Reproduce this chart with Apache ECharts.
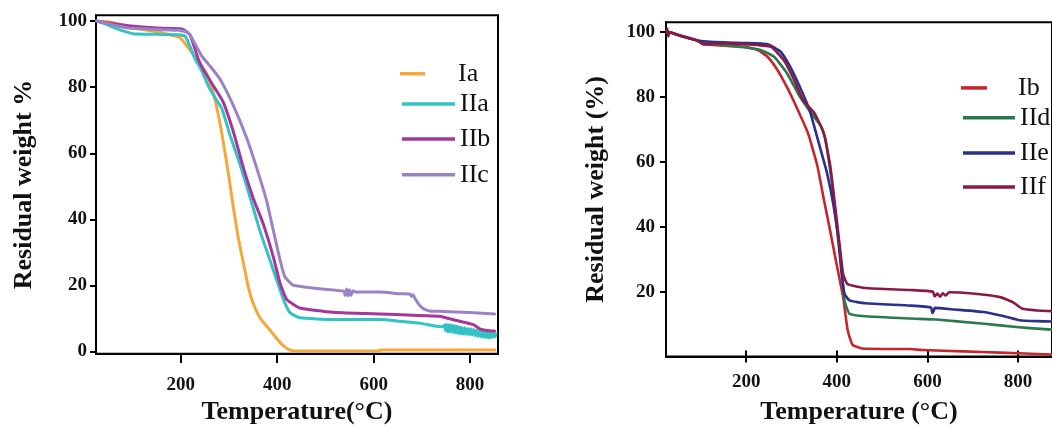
<!DOCTYPE html>
<html>
<head>
<meta charset="utf-8">
<script src="https://cdn.jsdelivr.net/npm/echarts@6/dist/echarts.min.js"></script>
<style>
html,body{margin:0;padding:0;background:#fff;overflow:hidden;}
#c{width:100vw;height:100vh;}
</style>
</head>
<body>
<div id="c"></div>
<script>
// ---------- DATA ----------
const xTicks = [200, 400, 600, 800];
const yTicksLeft = [0, 20, 40, 60, 80, 100];
const yTicksRight = [20, 40, 60, 80, 100];

const Ia = [[27,100],[45,99.8],[64,99.4],[100,98.0],[150,96.8],[198,95.0],[215,92],[235,88],[254,84],[267,78.5],[278,71.5],[288,63.5],[299,53.5],[309,43.6],[319,34.6],[330,26.6],[340,19.6],[350,14.6],[364,10.2],[378,7.7],[392,5.2],[406,2.7],[420,0.9],[433,0.2],[610,0.2],[614,0.5],[852,0.5]];
const IIa = [[25,100],[40,99.3],[64,97.9],[85,96.8],[100,96.2],[150,96.0],[195,95.9],[209,95.4],[220,92],[230,88.4],[240,86],[257,80.4],[270,77],[285,73.5],[302,65.5],[323,56.5],[344,46.5],[364,36.6],[385,27.6],[406,18.6],[416,14.6],[427,11.7],[447,10.2],[516,9.7],[613,9.7],[654,9.2],[696,8.6],[723,7.8],[744,7.5],[747,8.0],[749,6.4],[751,8.2],[753,6.0],[755,8.1],[757,5.9],[759,8.0],[761,6.1],[763,7.9],[765,5.8],[767,7.8],[769,5.7],[771,7.7],[773,5.6],[775,7.6],[777,5.5],[779,7.4],[781,5.4],[783,7.3],[786,5.3],[789,7.2],[792,5.2],[795,7.0],[798,5.1],[801,6.9],[804,5.0],[807,6.7],[810,4.8],[813,6.5],[816,4.6],[819,6.3],[822,4.5],[825,6.1],[828,4.3],[831,6.0],[834,4.2],[837,5.9],[840,4.1],[843,5.8],[846,4.2],[849,5.6],[852,4.4],[854,5.3]];
const IIb = [[25,100],[50,99.4],[91,98.6],[150,97.9],[202,97.6],[219,95.9],[236.5,88.4],[250,84.5],[267.5,80.4],[288,75.5],[309,66.5],[330,55.5],[350,46.5],[371,38.6],[392,28.6],[406,20.6],[420,15.7],[447,13.2],[516,11.9],[585,11.5],[613,11.4],[680,11.0],[737,10.7],[772,9.4],[806,8.2],[820,6.9],[835,6.4],[851,6.2]];
const IIc = [[25,100],[29,99.9],[60,98.8],[91,97.9],[195,97.2],[216,96.4],[243.5,89.4],[260,86.5],[281.5,82.4],[309,74.4],[337,64.5],[357.5,55.5],[378,45.6],[392,36.6],[406,27.6],[416,22.6],[433,20.1],[482,19.1],[538,18.3],[541,17.0],[544,18.9],[547,16.9],[550,18.7],[553,17.0],[557,18.4],[562,18.0],[613,18.0],[654,17.5],[675,17.4],[679,16.7],[682,17.2],[686,16.0],[696,13.9],[703,13.0],[716,12.3],[737,12.2],[800,11.8],[851,11.4]];

const Ib = [[24,100],[31,99.9],[60,98.7],[92,97.4],[106,96.2],[150,95.8],[198,95.4],[226,94.4],[247.6,92.3],[269,88.3],[290,83],[309,77.5],[336,69],[357,58.8],[371,48.7],[385.5,38.6],[399.6,28.4],[414,18.3],[424,8.1],[435,3.6],[456,2.5],[562,2.3],[591,2.0],[680,1.6],[760,1.2],[842,0.8],[875,0.6]];
const IId = [[24,100],[31,99.9],[60,98.6],[92,97.4],[127,96.2],[198,95.2],[233,94.4],[262,92.3],[290,87.3],[318,80.2],[343,75.1],[364,71.2],[375,67],[381,61.5],[389,53.8],[399.6,40.6],[410,28.4],[417,17.3],[428,13.2],[463,12.4],[562,11.7],[619,11.4],[725,10.1],[796,9.1],[842,8.6],[875,8.3]];
const IIe = [[24,100],[31,99.9],[60,98.6],[92,97.4],[150,96.8],[198,96.6],[247.6,96.2],[276,93.9],[297,89.3],[318,83.2],[339.5,76.1],[350,71],[364,63.9],[378,56.8],[392.6,46.7],[403,36.5],[410,26.4],[417,19.3],[428,17.3],[463,16.4],[562,15.7],[608,15.1],[611,13.4],[614,14.0],[616,15.0],[660,14.5],[725,13.7],[775,12.2],[803,11.2],[842,10.9],[875,10.8]];
const IIf = [[24,100],[26,101],[28,98.6],[31,99.9],[60,98.6],[92,97.4],[106,96.2],[150,96.5],[198,96.2],[254.6,95.4],[283,91.3],[304,85.8],[325,79.1],[350,75.1],[371,69],[385.5,58.8],[396,46.7],[407,33.5],[414,25.4],[424,22.3],[463,21.1],[562,20.5],[612,20.0],[616,18.5],[622,19.4],[628,18.4],[634,19.5],[640,18.8],[648,19.8],[700,19.4],[760.5,18.3],[789,16.7],[810,14.7],[842,14.2],[875,14.0]];

// ---------- STYLE ----------
const el = document.getElementById('c');
const W = el.clientWidth || 1052, H = el.clientHeight || 430;
const sx = v => v * W / 1052;
const sy = v => v * H / 430 * 1.011;

const serif = '"Liberation Serif", "Times New Roman", serif';
const colors = {
  Ia:'#F2A83B', IIa:'#35C2C4', IIb:'#A43799', IIc:'#9B82C6',
  Ib:'#C4262C', IId:'#2B7A4E', IIe:'#2D2F8C', IIf:'#8A1A45'
};

function line(name, data, gi, w) {
  return {
    name, type:'line', data, xAxisIndex: gi, yAxisIndex: gi,
    symbol:'none', smooth:0.15,
    lineStyle:{color:colors[name], width:w, join:'round', cap:'round'}, itemStyle:{color:colors[name]},
    animation:false, z: 3
  };
}
function leg(name, left, cy, w, pad) {
  return {
    data:[name], left:sx(left), top:sy(cy)-15, icon:'rect', itemWidth:w, itemHeight:3.5,
    selectedMode:false,
    textStyle:{fontFamily:serif, fontSize:26, color:'#111', lineHeight:30, padding:[0,0,0,pad]}
  };
}
function xAx(gi, min, max, nameGap, labelMargin, tickLen, tickInside, showAll) {
  return {
    type:'value', gridIndex:gi, min, max, position:'bottom',
    name: showAll ? (gi===0 ? 'Temperature(°C)' : 'Temperature (°C)') : '',
    nameLocation:'middle', nameGap: sy(nameGap),
    nameTextStyle:{fontFamily:serif, fontWeight:'bold', fontSize:26, color:'#111'},
    axisLine:{show:showAll, onZero:false, lineStyle:{color:'#000', width:2}},
    axisTick:{show:true, inside:tickInside, length:sy(tickLen), customValues:xTicks, lineStyle:{color:'#000', width:2}},
    axisLabel:{show:showAll, customValues:xTicks, margin:sy(labelMargin), fontFamily:serif, fontWeight:'bold', fontSize:19, color:'#111'},
    splitLine:{show:false}
  };
}
function yAx(gi, min, max, ticks, name, nameGap, labelMargin) {
  return {
    type:'value', gridIndex:gi, min, max,
    name, nameLocation:'middle', nameGap: sx(nameGap),
    nameTextStyle:{fontFamily:serif, fontWeight:'bold', fontSize:26, color:'#111'},
    axisLine:{show:true, onZero:false, lineStyle:{color:'#000', width:2}},
    axisTick:{show:true, length:6, customValues:ticks, lineStyle:{color:'#000', width:2}},
    axisLabel:{customValues:ticks, margin:labelMargin, fontFamily:serif, fontWeight:'bold', fontSize:19, color:'#111'},
    splitLine:{show:false}
  };
}

const chart = echarts.init(el, null, {renderer:'canvas'});
chart.setOption({
  backgroundColor:'#fff',
  animation:false,
  grid:[
    {left:sx(96), top:sy(15), width:sx(402), height:sy(343), show:true, borderColor:'#000', borderWidth:2, backgroundColor:'transparent'},
    {left:sx(666), top:sy(22), width:sx(401), height:sy(338), show:true, borderColor:'#000', borderWidth:2, backgroundColor:'transparent'}
  ],
  xAxis:[
    xAx(0, 24, 858, 44, 21, 9, false, true),
    xAx(1, 23, 875, 42, 16, 6, false, true),
    xAx(1, 23, 875, 0, 0, 6, true, false)
  ],
  yAxis:[
    yAx(0, -0.7, 101.8, yTicksLeft, 'Residual weight %', 59, 9),
    yAx(1, 0, 103, yTicksRight, 'Residual weight (%)', 57, 11)
  ],
  legend:[
    leg('Ia', 395, 68, 25, 28),
    leg('IIa', 397, 98, 53, 0),
    leg('IIb', 397, 132.5, 53, 0),
    leg('IIc', 397, 168, 53, 0),
    leg('Ib', 956, 82, 26, 26),
    leg('IId', 958, 111.5, 52, 0),
    leg('IIe', 958, 146.5, 52, 0),
    leg('IIf', 958, 180, 52, 0)
  ],
  series:[
    line('Ia', Ia, 0, 3),
    line('IIa', IIa, 0, 3),
    line('IIb', IIb, 0, 3),
    line('IIc', IIc, 0, 3),
    line('Ib', Ib, 1, 2.6),
    line('IId', IId, 1, 2.6),
    line('IIe', IIe, 1, 2.6),
    line('IIf', IIf, 1, 2.6)
  ]
});
</script>
</body>
</html>
